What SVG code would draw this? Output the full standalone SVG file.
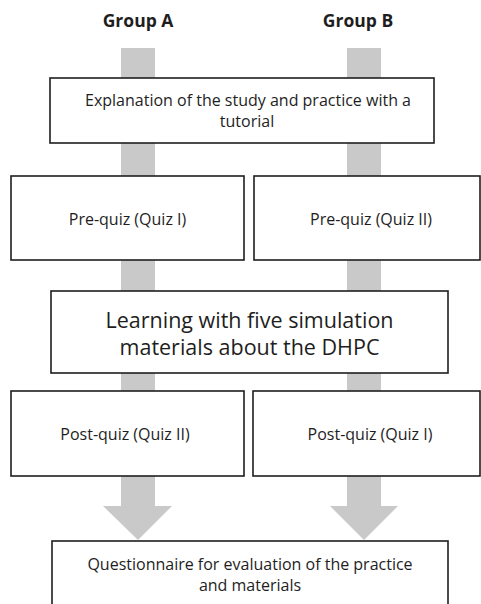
<svg xmlns="http://www.w3.org/2000/svg" width="481" height="604" viewBox="0 0 481 604">
<style>
.box{fill:#fff;stroke:#1e1e1e;stroke-width:1.6}
.t{font-family:"Open Sans","Liberation Sans",sans-serif;font-size:16px;fill:#1e1e1e;text-anchor:middle}
.big{font-size:21.5px}
.hd{font-weight:bold;font-size:17.5px}
.flow{fill:#c9c9c9}
</style>
<rect width="481" height="604" fill="#fff"/>
<g id="connectors">
<rect class="flow" x="121" y="48" width="34" height="459"/>
<polygon class="flow" points="103,506 172,506 138,540"/>
<rect class="flow" x="347" y="48" width="34" height="459"/>
<polygon class="flow" points="330,506 398,506 364,540"/>
</g>
<g id="groupA"><text class="t hd" x="138" y="27">Group A</text></g>
<g id="groupB"><text class="t hd" x="358" y="27">Group B</text></g>
<g id="explanation">
<rect class="box" x="50" y="78" width="384" height="65"/>
<text class="t" x="248" y="106">Explanation of the study and practice with a</text>
<text class="t" x="247" y="127">tutorial</text>
</g>
<g id="preA">
<rect class="box" x="11" y="176" width="233" height="84"/>
<text class="t" x="127.5" y="225">Pre-quiz (Quiz I)</text>
</g>
<g id="preB">
<rect class="box" x="254" y="176" width="226" height="84"/>
<text class="t" x="371" y="225">Pre-quiz (Quiz II)</text>
</g>
<g id="learning">
<rect class="box" x="51" y="291" width="397" height="82"/>
<text class="t big" x="249.5" y="328">Learning with five simulation</text>
<text class="t big" x="249.5" y="355">materials about the DHPC</text>
</g>
<g id="postA">
<rect class="box" x="11" y="391" width="233" height="85"/>
<text class="t" x="125" y="440">Post-quiz (Quiz II)</text>
</g>
<g id="postB">
<rect class="box" x="253" y="391" width="227" height="85"/>
<text class="t" x="370" y="440">Post-quiz (Quiz I)</text>
</g>
<g id="questionnaire">
<rect class="box" x="52" y="541" width="396" height="80"/>
<text class="t" x="250" y="570">Questionnaire for evaluation of the practice</text>
<text class="t" x="250" y="591">and materials</text>
</g>
</svg>
